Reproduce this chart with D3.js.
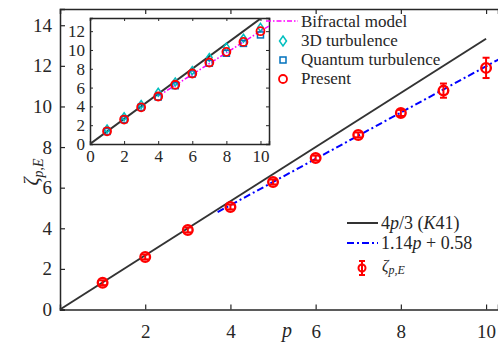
<!DOCTYPE html>
<html><head><meta charset="utf-8">
<script src="https://cdn.jsdelivr.net/npm/d3@7"></script>
</head><body style="margin:0;background:#fff"><svg id="c" width="498" height="342" font-family="Liberation Serif"></svg>
<script>
const pVals = [1,2,3,4,5,6,7,8,9,10];
const zetaPE = [1.32,2.59,3.92,5.05,6.28,7.46,8.6,9.68,10.78,11.9];
const zetaErr = [0.12,0.12,0.12,0.12,0.12,0.12,0.12,0.15,0.35,0.5];
const turb3D = [1.6,2.9,4.2,5.5,6.6,7.8,9.2,10.3,11.25,12.4];
const quantum = [1.33,2.6,3.9,5.0,6.2,7.45,8.6,9.65,10.7,11.6];
const present = [1.35,2.6,3.9,5.05,6.3,7.5,8.67,9.8,10.86,12.0];
const bifractalP = [4,5,6,7,8,9,10,10.5];
const bifractalZ = [5.1,6.25,7.4,8.55,9.7,10.85,12.0,12.55];
const k41P = [0,10];
const fitP = [3.7,10.3];
const xTicks = [2,4,6,8,10];
const yTicks = [0,2,4,6,8,10,12,14];
const inXTicks = [0,2,4,6,8,10];
const inYTicks = [0,2,4,6,8,10,12];

const FF = 'Liberation Serif';
const svg = d3.select('#c');
const ax = '#262626';
const x = d3.scaleLinear().domain([0,10.28]).range([60,498]);
const y = d3.scaleLinear().domain([0,14.8]).range([309.5,9]);

const g = svg.append('g');
const mainStyle = s=>{s.attr('font-family',FF);s.select('.domain').attr('stroke',ax).attr('stroke-width',1.5);s.selectAll('line').attr('stroke',ax).attr('stroke-width',1.2);s.selectAll('text').attr('font-size',19).attr('font-family',FF).attr('fill',ax);};
g.append('g').attr('transform','translate(0,309.5)')
 .call(d3.axisBottom(x).tickValues(xTicks).tickSize(-5).tickPadding(15).tickFormat(d3.format('d'))).call(mainStyle);
g.append('g').attr('transform','translate(0,9)')
 .call(d3.axisTop(x).tickValues(xTicks).tickSize(-5).tickFormat('')).call(mainStyle);
g.append('g').attr('transform','translate(60,0)')
 .call(d3.axisLeft(y).tickValues(yTicks).tickSize(-5).tickPadding(8).tickFormat(d3.format('d'))).call(mainStyle);

const line = d3.line().x(d=>x(d[0])).y(d=>y(d[1]));
g.append('path').attr('d',line(k41P.map(p=>[p,4*p/3]))).attr('stroke','#333').attr('stroke-width',2).attr('fill','none');
g.append('path').attr('d',line(fitP.map(p=>[p,1.14*p+0.58]))).attr('stroke','#0000ff').attr('stroke-width',2).attr('fill','none').attr('stroke-dasharray','7,3,2,3');

const red='#ff0000';
pVals.forEach((p,i)=>{
  const cx=x(p), cy=y(zetaPE[i]), t=y(zetaPE[i]+zetaErr[i]), b=y(zetaPE[i]-zetaErr[i]);
  g.append('line').attr('x1',cx).attr('x2',cx).attr('y1',t).attr('y2',b).attr('stroke',red).attr('stroke-width',2);
  g.append('line').attr('x1',cx-3.5).attr('x2',cx+3.5).attr('y1',t).attr('y2',t).attr('stroke',red).attr('stroke-width',2);
  g.append('line').attr('x1',cx-3.5).attr('x2',cx+3.5).attr('y1',b).attr('y2',b).attr('stroke',red).attr('stroke-width',2);
  g.append('circle').attr('cx',cx).attr('cy',cy).attr('r',4.8).attr('fill','none').attr('stroke',red).attr('stroke-width',2.4);
});

const T = (sel)=>sel.append('text').attr('font-family',FF).attr('fill',ax);
T(svg).attr('x',287).attr('y',337).attr('font-size',20).attr('font-style','italic').attr('text-anchor','middle').text('p');
T(svg).attr('transform','translate(38,172) rotate(-90)').attr('text-anchor','middle').attr('font-size',20)
  .html('<tspan font-style="italic">ζ</tspan><tspan font-style="italic" font-size="14" dy="5">p,E</tspan>');

const lg = svg.append('g');
lg.append('line').attr('x1',347).attr('x2',378).attr('y1',223).attr('y2',223).attr('stroke','#333').attr('stroke-width',2);
lg.append('line').attr('x1',347).attr('x2',378).attr('y1',243).attr('y2',243).attr('stroke','#0000ff').attr('stroke-width',2).attr('stroke-dasharray','7,3,2,3');
lg.append('line').attr('x1',362).attr('x2',362).attr('y1',261).attr('y2',275).attr('stroke',red).attr('stroke-width',2);
lg.append('line').attr('x1',359).attr('x2',365).attr('y1',261).attr('y2',261).attr('stroke',red).attr('stroke-width',2);
lg.append('line').attr('x1',359).attr('x2',365).attr('y1',275).attr('y2',275).attr('stroke',red).attr('stroke-width',2);
lg.append('circle').attr('cx',362).attr('cy',268).attr('r',3.5).attr('fill','none').attr('stroke',red).attr('stroke-width',2);
T(lg).attr('x',381).attr('y',229).attr('font-size',18)
  .html('4<tspan font-style="italic">p</tspan>/3 (<tspan font-style="italic">K</tspan>41)');
T(lg).attr('x',381).attr('y',249).attr('font-size',18)
  .html('1.14<tspan font-style="italic">p</tspan> + 0.58');
T(lg).attr('x',382).attr('y',271).attr('font-size',16)
  .html('<tspan font-style="italic">ζ</tspan><tspan font-style="italic" font-size="12" dy="3">p,E</tspan>');

const ix = d3.scaleLinear().domain([0,10.5]).range([90,269]);
const iy = d3.scaleLinear().domain([0,13.4]).range([144,18]);
const ig = svg.append('g');
ig.append('rect').attr('x',90).attr('y',18).attr('width',179).attr('height',126).attr('fill','#fff');
ig.append('defs').append('clipPath').attr('id','ic').append('rect').attr('x',90).attr('y',18).attr('width',179).attr('height',126);
const axStyle = s=>{s.attr('font-family',FF);s.select('.domain').attr('stroke',ax).attr('stroke-width',1.5);s.selectAll('line').attr('stroke',ax).attr('stroke-width',1);s.selectAll('text').attr('font-size',17).attr('font-family',FF).attr('fill',ax);};
ig.append('g').attr('transform','translate(0,144)').call(d3.axisBottom(ix).tickValues(inXTicks).tickSize(-3).tickPadding(6).tickFormat(d3.format('d'))).call(axStyle);
ig.append('g').attr('transform','translate(0,18)').call(d3.axisTop(ix).tickValues(inXTicks).tickSize(-3).tickFormat('')).call(axStyle);
ig.append('g').attr('transform','translate(90,0)').call(d3.axisLeft(iy).tickValues(inYTicks).tickSize(-3).tickPadding(5).tickFormat(d3.format('d'))).call(axStyle);
ig.append('g').attr('transform','translate(269,0)').call(d3.axisRight(iy).tickValues(inYTicks).tickSize(-3).tickFormat('')).call(axStyle);
const iline = d3.line().x(d=>ix(d[0])).y(d=>iy(d[1]));
const inner = ig.append('g').attr('clip-path','url(#ic)');
inner.append('path').attr('d',iline([[0,0],[10.5,14]])).attr('stroke','#333').attr('stroke-width',2).attr('fill','none');
inner.append('path').attr('d',iline(bifractalP.map((p,i)=>[p,bifractalZ[i]]))).attr('stroke','#ff00ff').attr('stroke-width',1.5).attr('fill','none').attr('stroke-dasharray','5,2,1.5,2');
const cyan='#00bfbf', qblue='#0072bd';
const diamond = (cx,cy,s)=>`M${cx},${cy-s}L${cx+s*0.7},${cy}L${cx},${cy+s}L${cx-s*0.7},${cy}Z`;
pVals.forEach((p,i)=>{
  inner.append('path').attr('d',diamond(ix(p),iy(turb3D[i]),4)).attr('fill','none').attr('stroke',cyan).attr('stroke-width',1.5);
  inner.append('rect').attr('x',ix(p)-3).attr('y',iy(quantum[i])-3).attr('width',6).attr('height',6).attr('fill','none').attr('stroke',qblue).attr('stroke-width',1.5);
  inner.append('circle').attr('cx',ix(p)).attr('cy',iy(present[i])).attr('r',4).attr('fill','none').attr('stroke',red).attr('stroke-width',1.8);
});
const il = svg.append('g');
il.append('line').attr('x1',266).attr('x2',298).attr('y1',21).attr('y2',21).attr('stroke','#ff00ff').attr('stroke-width',1.5).attr('stroke-dasharray','5,2,1.5,2');
il.append('path').attr('d',diamond(283,41,5)).attr('fill','none').attr('stroke',cyan).attr('stroke-width',1.5);
il.append('rect').attr('x',280).attr('y',57).attr('width',6).attr('height',6).attr('fill','none').attr('stroke',qblue).attr('stroke-width',1.5);
il.append('circle').attr('cx',283).attr('cy',79).attr('r',4).attr('fill','none').attr('stroke',red).attr('stroke-width',1.8);
const names=['Bifractal model','3D turbulence','Quantum turbulence','Present'];
names.forEach((n,i)=>T(il).attr('x',301).attr('y',26.5+i*19.3).attr('font-size',17).text(n));
</script></body></html>
